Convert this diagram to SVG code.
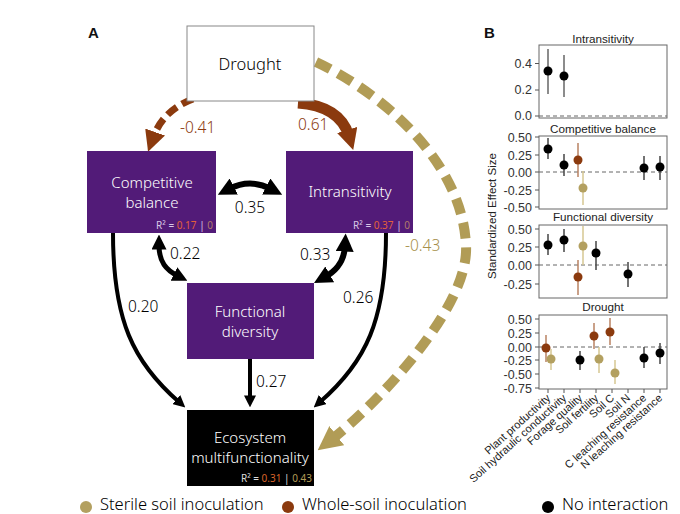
<svg xmlns="http://www.w3.org/2000/svg" width="680" height="514" viewBox="0 0 680 514">
<style>
.nodeT{font-family:"Noto Sans","Open Sans",sans-serif;font-weight:300;font-size:15px;fill:#fff;text-anchor:middle}
.num{font-family:"Noto Sans","Open Sans",sans-serif;font-weight:300;font-size:15.5px;fill:#000}
.r2{font-family:"Noto Sans","Open Sans",sans-serif;font-size:10px;text-anchor:end}
.blk{fill:none;stroke:#000}
.axis{font-family:"Liberation Sans",Arial,sans-serif;font-size:12.5px;fill:#333;text-anchor:end}
.ttl{font-family:"Liberation Sans",Arial,sans-serif;font-size:11.7px;fill:#222;text-anchor:middle}
.xl{font-family:"Liberation Sans",Arial,sans-serif;font-size:11px;fill:#222;text-anchor:end}
.frame{fill:#fff;stroke:#666;stroke-width:1}
.zero{stroke:#666;stroke-width:1;stroke-dasharray:4 3}
.tick{stroke:#555;stroke-width:1}
.eb{stroke:#444;stroke-width:1.5}
.ebB{stroke:#b88262;stroke-width:1.5}
.ebT{stroke:#d6c792;stroke-width:1.5}
.dk{fill:#000}
.br{fill:#8b3a0e}
.tn{fill:#b3a060}
.leg{font-family:"Noto Sans","Open Sans",sans-serif;font-weight:300;font-size:16.5px;fill:#000}
</style>
<defs>
<marker id="ah" viewBox="0 0 10 10" refX="3" refY="5" markerWidth="3" markerHeight="3" orient="auto-start-reverse"><path d="M0,0 L10,5 L0,10 z" fill="#000"/></marker>
<marker id="ahBr" viewBox="0 0 10 10" refX="3" refY="5" markerUnits="userSpaceOnUse" markerWidth="21" markerHeight="21" orient="auto"><path d="M0,0 L10,5 L0,10 z" fill="#8b3a0e"/></marker>
<marker id="ahTn" viewBox="0 0 10 10" refX="3" refY="5" markerUnits="userSpaceOnUse" markerWidth="24" markerHeight="24" orient="auto"><path d="M0,0 L10,5 L0,10 z" fill="#b19c56"/></marker>
</defs>
<rect width="680" height="514" fill="#fff"/>

<text x="88" y="38" font-family="Liberation Sans,Arial,sans-serif" font-size="15" font-weight="bold" fill="#111">A</text>
<text x="484" y="38" font-family="Liberation Sans,Arial,sans-serif" font-size="15" font-weight="bold" fill="#111">B</text>

<g id="connectors">
<path d="M316,62 C380,92 462,160 466,245 C470,310 370,410 331,440" fill="none" stroke="#b19c56" stroke-width="10" stroke-dasharray="16 9" marker-end="url(#ahTn)"/>
<path d="M193,99 Q163,110 153,138" fill="none" stroke="#8b3a0e" stroke-width="7" stroke-dasharray="12 6" marker-end="url(#ahBr)"/>
<path d="M298,103 Q340,106 349,136" fill="none" stroke="#8b3a0e" stroke-width="11" marker-end="url(#ahBr)"/>
<path class="blk" d="M229,189 Q250,178 271,189" stroke-width="6" marker-start="url(#ah)" marker-end="url(#ah)"/>
<path class="blk" d="M159,245 C159,262 166,270 178,276" stroke-width="5" marker-start="url(#ah)" marker-end="url(#ah)"/>
<path class="blk" d="M345,246 C344,264 334,272 325,277" stroke-width="6" marker-start="url(#ah)" marker-end="url(#ah)"/>
<path class="blk" d="M113,233 C113,320 133,362 179,402" stroke-width="4" marker-end="url(#ah)"/>
<path class="blk" d="M386,233 C386,320 366,362 320,402" stroke-width="4" marker-end="url(#ah)"/>
<path class="blk" d="M250,359 L250,399" stroke-width="4" marker-end="url(#ah)"/>
<text class="num" x="180" y="133" style="fill:#8b3a0e">-0.41</text>
<text class="num" x="298" y="130" style="fill:#8b3a0e">0.61</text>
<text class="num" x="250" y="213" text-anchor="middle">0.35</text>
<text class="num" x="170" y="259">0.22</text>
<text class="num" x="300" y="260">0.33</text>
<text class="num" x="128" y="312">0.20</text>
<text class="num" x="343" y="303">0.26</text>
<text class="num" x="256" y="387">0.27</text>
<text class="num" x="405" y="251" style="fill:#a68f4a">-0.43</text>
</g>

<g id="drought">
<rect x="187" y="26" width="127" height="75" fill="#fff" stroke="#888" stroke-width="1"/>
<text class="nodeT" x="250" y="70" style="fill:#000;font-size:16.5px">Drought</text>
</g>
<g id="competitive-balance">
<rect x="87" y="151" width="129" height="82" fill="#521b78"/>
<text class="nodeT" x="152" y="188">Competitive</text>
<text class="nodeT" x="152" y="208">balance</text>
<text class="r2" x="213" y="229"><tspan fill="#d8c8e6">R² = </tspan><tspan fill="#e2603a">0.17</tspan><tspan fill="#d8c8e6"> | </tspan><tspan fill="#b07a6a">0</tspan></text>
</g>
<g id="intransitivity">
<rect x="286" y="151" width="127" height="82" fill="#521b78"/>
<text class="nodeT" x="350" y="197">Intransitivity</text>
<text class="r2" x="410" y="229"><tspan fill="#d8c8e6">R² = </tspan><tspan fill="#e2603a">0.37</tspan><tspan fill="#d8c8e6"> | </tspan><tspan fill="#b07a6a">0</tspan></text>
</g>
<g id="functional-diversity">
<rect x="187" y="283" width="127" height="76" fill="#521b78"/>
<text class="nodeT" x="250" y="317">Functional</text>
<text class="nodeT" x="250" y="337">diversity</text>
</g>
<g id="ecosystem-multifunctionality">
<rect x="187" y="410" width="127" height="76" fill="#000"/>
<text class="nodeT" x="250" y="443">Ecosystem</text>
<text class="nodeT" x="250" y="463">multifunctionality</text>
<text class="r2" x="312" y="482"><tspan fill="#ddd">R² = </tspan><tspan fill="#d9642a">0.31</tspan><tspan fill="#ddd"> | </tspan><tspan fill="#b19c56">0.43</tspan></text>
</g>

<g id="legend">
<circle cx="86" cy="507" r="6" class="tn"/>
<text class="leg" x="100" y="510">Sterile soil inoculation</text>
<circle cx="288" cy="507" r="6" class="br"/>
<text class="leg" x="302" y="510">Whole-soil inoculation</text>
<circle cx="548" cy="507" r="6" class="dk"/>
<text class="leg" x="562" y="510">No interaction</text>
</g>

<g id="panel-b">
<text x="493" y="216" transform="rotate(-90 493 216)" font-family="Liberation Sans,Arial,sans-serif" font-size="11.5" fill="#222" text-anchor="middle" dominant-baseline="middle">Standardized Effect Size</text>

<text class="ttl" x="603" y="43">Intransitivity</text>
<rect class="frame" x="539" y="45" width="128" height="73"/>
<line class="zero" x1="539" y1="116" x2="667" y2="116"/>
<g class="tick"><line x1="535" y1="63.5" x2="539" y2="63.5"/><line x1="535" y1="90" x2="539" y2="90"/><line x1="535" y1="116" x2="539" y2="116"/></g>
<text class="axis" x="532" y="68">0.4</text><text class="axis" x="532" y="94">0.2</text><text class="axis" x="532" y="120">0.0</text>
<line class="eb" style="stroke:#666" x1="548" y1="49" x2="548" y2="94"/><circle class="dk" cx="548" cy="71" r="4.5"/>
<line class="eb" style="stroke:#666" x1="564" y1="55" x2="564" y2="97"/><circle class="dk" cx="564" cy="76" r="4.5"/>

<text class="ttl" x="603" y="133">Competitive balance</text>
<rect class="frame" x="539" y="136" width="128" height="73"/>
<line class="zero" x1="539" y1="172" x2="667" y2="172"/>
<g class="tick"><line x1="535" y1="137" x2="539" y2="137"/><line x1="535" y1="155" x2="539" y2="155"/><line x1="535" y1="172" x2="539" y2="172"/><line x1="535" y1="190" x2="539" y2="190"/><line x1="535" y1="207" x2="539" y2="207"/></g>
<text class="axis" x="532" y="141.5">0.50</text><text class="axis" x="532" y="159.5">0.25</text><text class="axis" x="532" y="176.5">0.00</text><text class="axis" x="532" y="194.5">-0.25</text><text class="axis" x="532" y="211.5">-0.50</text>
<line class="eb" x1="548" y1="138" x2="548" y2="159"/><circle class="dk" cx="548" cy="149" r="4.5"/>
<line class="eb" x1="564" y1="154" x2="564" y2="176"/><circle class="dk" cx="564" cy="165" r="4.5"/>
<line class="ebB" x1="578" y1="143" x2="578" y2="177"/><circle class="br" cx="578" cy="160" r="4.5"/>
<line class="ebT" x1="583" y1="171" x2="583" y2="205"/><circle class="tn" cx="583" cy="188" r="4.5"/>
<line class="eb" x1="644" y1="156" x2="644" y2="180"/><circle class="dk" cx="644" cy="168" r="4.5"/>
<line class="eb" x1="660" y1="156" x2="660" y2="180"/><circle class="dk" cx="660" cy="167" r="4.5"/>

<text class="ttl" x="603" y="221">Functional diversity</text>
<rect class="frame" x="539" y="225" width="128" height="73"/>
<line class="zero" x1="539" y1="265" x2="667" y2="265"/>
<g class="tick"><line x1="535" y1="229" x2="539" y2="229"/><line x1="535" y1="247" x2="539" y2="247"/><line x1="535" y1="265" x2="539" y2="265"/><line x1="535" y1="284" x2="539" y2="284"/></g>
<text class="axis" x="532" y="233.5">0.50</text><text class="axis" x="532" y="251.5">0.25</text><text class="axis" x="532" y="269.5">0.00</text><text class="axis" x="532" y="288.5">-0.25</text>
<line class="eb" x1="548" y1="234" x2="548" y2="255"/><circle class="dk" cx="548" cy="245" r="4.5"/>
<line class="eb" x1="564" y1="229" x2="564" y2="252"/><circle class="dk" cx="564" cy="240" r="4.5"/>
<line class="ebB" x1="578" y1="260" x2="578" y2="295"/><circle class="br" cx="578" cy="277" r="4.5"/>
<line class="ebT" x1="583" y1="226" x2="583" y2="265"/><circle class="tn" cx="583" cy="246" r="4.5"/>
<line class="eb" x1="596" y1="241" x2="596" y2="270"/><circle class="dk" cx="596" cy="253" r="4.5"/>
<line class="eb" x1="628" y1="262" x2="628" y2="287"/><circle class="dk" cx="628" cy="274" r="4.5"/>

<text class="ttl" x="603" y="311">Drought</text>
<rect class="frame" x="539" y="315" width="128" height="74"/>
<line class="zero" x1="539" y1="347" x2="667" y2="347"/>
<g class="tick"><line x1="535" y1="319" x2="539" y2="319"/><line x1="535" y1="333" x2="539" y2="333"/><line x1="535" y1="347" x2="539" y2="347"/><line x1="535" y1="360" x2="539" y2="360"/><line x1="535" y1="374" x2="539" y2="374"/><line x1="535" y1="388" x2="539" y2="388"/></g>
<text class="axis" x="532" y="323.5">0.50</text><text class="axis" x="532" y="337.5">0.25</text><text class="axis" x="532" y="351.5">0.00</text><text class="axis" x="532" y="364.5">-0.25</text><text class="axis" x="532" y="378.5">-0.50</text><text class="axis" x="532" y="392.5">-0.75</text>
<line class="ebB" x1="546" y1="335" x2="546" y2="362"/><circle class="br" cx="546" cy="348" r="4.5"/>
<line class="ebT" x1="551" y1="349" x2="551" y2="370"/><circle class="tn" cx="551" cy="359" r="4.5"/>
<line class="eb" x1="580" y1="351" x2="580" y2="370"/><circle class="dk" cx="580" cy="360" r="4.5"/>
<line class="ebB" x1="594" y1="323" x2="594" y2="349"/><circle class="br" cx="594" cy="336" r="4.5"/>
<line class="ebT" x1="599" y1="347" x2="599" y2="373"/><circle class="tn" cx="599" cy="359" r="4.5"/>
<line class="ebB" x1="610" y1="318" x2="610" y2="345"/><circle class="br" cx="610" cy="332" r="4.5"/>
<line class="ebT" x1="615" y1="360" x2="615" y2="384"/><circle class="tn" cx="615" cy="373" r="4.5"/>
<line class="eb" x1="644" y1="347" x2="644" y2="368"/><circle class="dk" cx="644" cy="358" r="4.5"/>
<line class="eb" x1="660" y1="343" x2="660" y2="364"/><circle class="dk" cx="660" cy="353" r="4.5"/>

<g class="tick"><line x1="548" y1="389" x2="548" y2="393"/><line x1="564" y1="389" x2="564" y2="393"/><line x1="580" y1="389" x2="580" y2="393"/><line x1="596" y1="389" x2="596" y2="393"/><line x1="612" y1="389" x2="612" y2="393"/><line x1="628" y1="389" x2="628" y2="393"/><line x1="644" y1="389" x2="644" y2="393"/><line x1="660" y1="389" x2="660" y2="393"/></g>
<text class="xl" transform="translate(551,399) rotate(-42)">Plant productivity</text>
<text class="xl" transform="translate(567,399) rotate(-42)">Soil hydraulic conductivity</text>
<text class="xl" transform="translate(583,399) rotate(-42)">Forage quality</text>
<text class="xl" transform="translate(599,399) rotate(-42)">Soil fertility</text>
<text class="xl" transform="translate(615,399) rotate(-42)">Soil C</text>
<text class="xl" transform="translate(631,399) rotate(-42)">Soil N</text>
<text class="xl" transform="translate(647,399) rotate(-42)">C leaching resistance</text>
<text class="xl" transform="translate(663,399) rotate(-42)">N leaching resistance</text>
</g>
</svg>
